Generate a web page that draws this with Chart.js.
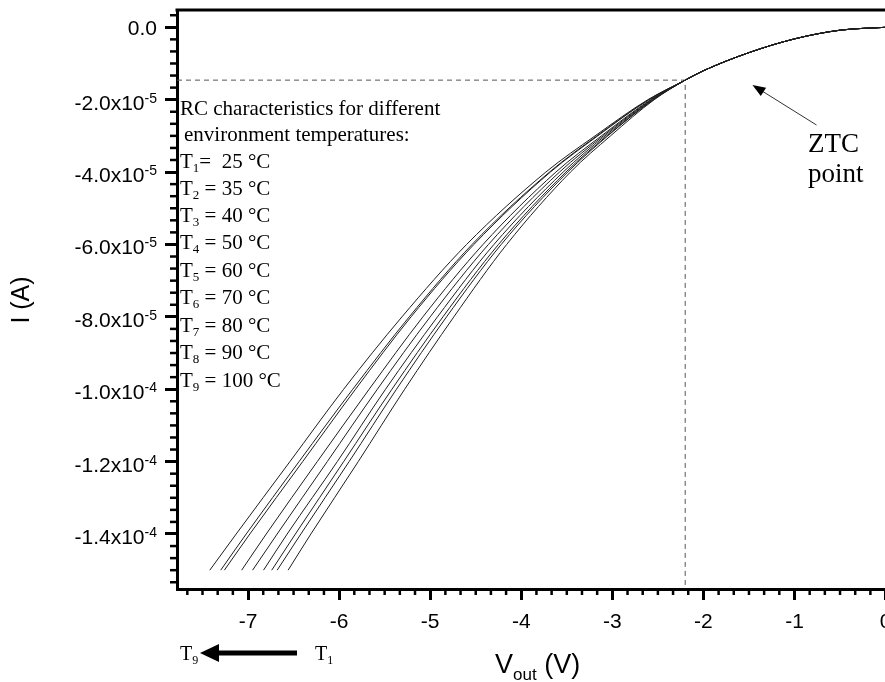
<!DOCTYPE html>
<html>
<head>
<meta charset="utf-8">
<script src="https://cdn.jsdelivr.net/npm/chart.js@4.4.0/dist/chart.umd.min.js"></script>
<style>
    html, body { margin: 0; padding: 0; background: #fff; overflow: hidden; }
    #wrap { width: 885px; height: 682px; overflow: hidden; }
    canvas { display: block; }
</style>
</head>
<body>
<div id="wrap"><canvas id="chart" width="960" height="682"></canvas></div>
<script>
// 温度ごとのRC特性 (I vs Vout)
const temps = [25, 35, 40, 50, 60, 70, 80, 90, 100];

// ZTC点より上は全曲線ほぼ共通
const upperV = [0, -0.5, -1.0, -1.5, -2.0, -2.2];
const upperI = [0, -0.8e-6, -3.2e-6, -7.0e-6, -1.2e-5, -1.46e-5];

// ZTC点より下: 電流レベルごとの電圧
const lowerI = [-2e-5, -3e-5, -4e-5, -6e-5, -8e-5, -1.0e-4, -1.2e-4, -1.4e-4, -1.5e-4];
const vT1 = [-2.54, -3.02, -3.46, -4.16, -4.74, -5.28, -5.79, -6.31, -6.56];
const vT2 = [-2.55, -3.05, -3.49, -4.22, -4.82, -5.37, -5.89, -6.42, -6.68];
const vT3 = [-2.55, -3.06, -3.51, -4.25, -4.86, -5.42, -5.95, -6.48, -6.74];
const vT4 = [-2.56, -3.08, -3.54, -4.30, -4.92, -5.49, -6.02, -6.57, -6.83];
const vT5 = [-2.57, -3.10, -3.58, -4.36, -5.00, -5.58, -6.13, -6.68, -6.95];
const vT6 = [-2.58, -3.12, -3.62, -4.42, -5.08, -5.67, -6.24, -6.80, -7.07];
const vT7 = [-2.60, -3.16, -3.68, -4.52, -5.21, -5.82, -6.40, -6.98, -7.26];
const vT8 = [-2.60, -3.17, -3.69, -4.54, -5.23, -5.85, -6.44, -7.02, -7.30];
const vT9 = [-2.61, -3.19, -3.73, -4.60, -5.31, -5.95, -6.54, -7.13, -7.42];

// ZTC点と注釈矢印
const ztcV = -2.2;
const ztcI = -1.46e-5;
const arrowTail = [-0.758, -2.70e-5];
const arrowHead = [-1.462, -1.594e-5];

// 軸
const xMin = -7.78, xMax = 0.4;
const yMin = -1.552e-4, yMax = 4.78e-6;
const xTickValues = [-7, -6, -5, -4, -3, -2, -1, 0];
const xTickLabels = ['-7', '-6', '-5', '-4', '-3', '-2', '-1', '0'];
const yTickValues = [0, -2e-5, -4e-5, -6e-5, -8e-5, -1e-4, -1.2e-4, -1.4e-4];
const yTickMantissa = ['0.0', '-2.0', '-4.0', '-6.0', '-8.0', '-1.0', '-1.2', '-1.4'];
const yTickExponent = ['', '-5', '-5', '-5', '-5', '-4', '-4', '-4'];
const minorCount = 6;

const SANS = '"Liberation Sans", Arial, sans-serif';
const SERIF = '"Liberation Serif", "Times New Roman", serif';

/**
 * 添字付きテキストを描画
 */
function drawRich(ctx, x, y, parts) {
    let cx = x;
    parts.forEach(([text, size, dy, family]) => {
        ctx.font = `${size}px ${family || SERIF}`;
        ctx.fillText(text, cx, y + dy);
        cx += ctx.measureText(text).width;
    });
}

const curves = [vT1, vT2, vT3, vT4, vT5, vT6, vT7, vT8, vT9];
const datasets = curves.map((lv, k) => ({
    label: `T${k + 1} = ${temps[k]} °C`,
    data: upperV.map((v, i) => ({ x: v, y: upperI[i] }))
        .concat(lv.map((v, i) => ({ x: v, y: lowerI[i] }))),
    borderColor: '#1e1e1e',
    borderWidth: 1,
    pointRadius: 0,
    fill: false,
    cubicInterpolationMode: 'monotone'
}));

datasets.push({
    label: 'ZTC guide',
    data: [{ x: xMin, y: ztcI }, { x: ztcV, y: ztcI }, { x: ztcV, y: yMin }],
    borderColor: '#555',
    borderWidth: 1,
    borderDash: [5, 4],
    pointRadius: 0,
    tension: 0
});

const decorations = {
    id: 'decorations',
    afterDraw(chart) {
        const ctx = chart.ctx;
        const area = chart.chartArea;
        const xs = chart.scales.x;
        const ys = chart.scales.y;
        ctx.save();
        ctx.fillStyle = '#000';
        ctx.strokeStyle = '#000';

        // 枠 (上・右)
        ctx.lineWidth = 3;
        ctx.beginPath();
        ctx.moveTo(area.left - 1.5, area.top);
        ctx.lineTo(area.right, area.top);
        ctx.lineTo(area.right, area.bottom);
        ctx.stroke();

        // 補助目盛
        ctx.lineWidth = 2.5;
        for (let k = Math.ceil(xMin * minorCount); k <= Math.floor(xMax * minorCount); k++) {
            if (k % minorCount === 0) continue;
            const px = xs.getPixelForValue(k / minorCount);
            ctx.beginPath();
            ctx.moveTo(px, area.bottom);
            ctx.lineTo(px, area.bottom + 6);
            ctx.stroke();
        }
        const yStep = 2e-5 / minorCount;
        for (let k = Math.ceil(yMin / yStep); k <= Math.floor(yMax / yStep); k++) {
            if (k % minorCount === 0) continue;
            const py = ys.getPixelForValue(k * yStep);
            ctx.beginPath();
            ctx.moveTo(area.left, py);
            ctx.lineTo(area.left - 7, py);
            ctx.stroke();
        }

        // X軸目盛ラベル
        ctx.textAlign = 'center';
        ctx.textBaseline = 'alphabetic';
        ctx.font = `21px ${SANS}`;
        xTickValues.forEach((v, i) => {
            ctx.fillText(xTickLabels[i], xs.getPixelForValue(v), area.bottom + 39);
        });

        // Y軸目盛ラベル (指数表記)
        ctx.textAlign = 'right';
        const labelRight = area.left - 20;
        yTickValues.forEach((v, i) => {
            const py = ys.getPixelForValue(v);
            if (!yTickExponent[i]) {
                ctx.font = `21px ${SANS}`;
                ctx.fillText(yTickMantissa[i], labelRight, py + 8);
                return;
            }
            ctx.font = `14px ${SANS}`;
            const ew = ctx.measureText(yTickExponent[i]).width;
            ctx.fillText(yTickExponent[i], labelRight, py + 3);
            ctx.font = `21px ${SANS}`;
            ctx.fillText(yTickMantissa[i] + 'x10', labelRight - ew, py + 10);
        });

        // 軸タイトル
        ctx.save();
        ctx.translate(29, 300);
        ctx.rotate(-Math.PI / 2);
        ctx.textAlign = 'center';
        ctx.font = `25px ${SANS}`;
        ctx.fillText('I (A)', 0, 0);
        ctx.restore();

        ctx.textAlign = 'left';
        drawRich(ctx, 495, 673, [['V', 27, 0, SANS], ['out', 17, 7, SANS], [' (V)', 27, 0, SANS]]);

        // 凡例テキスト
        ctx.font = `21px ${SERIF}`;
        ctx.fillText('RC characteristics for different', 180, 115);
        ctx.fillText('environment temperatures:', 184, 141);
        const rowY = [168, 195, 222, 249, 277, 304, 332, 359, 387];
        temps.forEach((t, k) => {
            const rest = k === 0 ? `=  ${t} °C` : ` = ${t} °C`;
            drawRich(ctx, 180, rowY[k], [['T', 21, 0], [String(k + 1), 13, 4], [rest, 21, 0]]);
        });

        // ZTC注釈
        ctx.font = `27px ${SERIF}`;
        ctx.fillText('ZTC', 808, 152);
        ctx.fillText('point', 808, 182);

        const tx = xs.getPixelForValue(arrowTail[0]);
        const ty = ys.getPixelForValue(arrowTail[1]);
        const hx = xs.getPixelForValue(arrowHead[0]);
        const hy = ys.getPixelForValue(arrowHead[1]);
        const ang = Math.atan2(hy - ty, hx - tx);
        ctx.lineWidth = 1;
        ctx.strokeStyle = '#333';
        ctx.beginPath();
        ctx.moveTo(tx, ty);
        ctx.lineTo(hx - 8 * Math.cos(ang), hy - 8 * Math.sin(ang));
        ctx.stroke();
        ctx.beginPath();
        ctx.moveTo(hx, hy);
        ctx.lineTo(hx - 13 * Math.cos(ang) + 5 * Math.sin(ang), hy - 13 * Math.sin(ang) - 5 * Math.cos(ang));
        ctx.lineTo(hx - 13 * Math.cos(ang) - 5 * Math.sin(ang), hy - 13 * Math.sin(ang) + 5 * Math.cos(ang));
        ctx.closePath();
        ctx.fill();

        // T9 <- T1 矢印
        drawRich(ctx, 180, 660, [['T', 20, 0], ['9', 12, 4]]);
        drawRich(ctx, 315, 660, [['T', 20, 0], ['1', 12, 4]]);
        ctx.lineWidth = 5;
        ctx.strokeStyle = '#000';
        ctx.beginPath();
        ctx.moveTo(297, 653);
        ctx.lineTo(214, 653);
        ctx.stroke();
        ctx.beginPath();
        ctx.moveTo(200, 653);
        ctx.lineTo(219, 644);
        ctx.lineTo(219, 662);
        ctx.closePath();
        ctx.fill();

        ctx.restore();
    }
};

new Chart(document.getElementById('chart'), {
    type: 'line',
    data: { datasets: datasets },
    options: {
        responsive: false,
        animation: false,
        devicePixelRatio: 1,
        layout: { padding: { left: 0, top: 10, right: 38, bottom: 0 } },
        plugins: {
            legend: { display: false },
            tooltip: { enabled: false }
        },
        scales: {
            x: {
                type: 'linear',
                min: xMin,
                max: xMax,
                afterFit: s => { s.height = 93; },
                afterBuildTicks: s => { s.ticks = xTickValues.map(v => ({ value: v })); },
                ticks: { display: false },
                grid: { drawOnChartArea: false, drawTicks: true, tickLength: 11, tickWidth: 3, tickColor: '#000' },
                border: { display: true, color: '#000', width: 3 }
            },
            y: {
                type: 'linear',
                min: yMin,
                max: yMax,
                afterFit: s => { s.width = 177; },
                afterBuildTicks: s => { s.ticks = yTickValues.map(v => ({ value: v })); },
                ticks: { display: false },
                grid: { drawOnChartArea: false, drawTicks: true, tickLength: 12, tickWidth: 3, tickColor: '#000' },
                border: { display: true, color: '#000', width: 3 }
            }
        }
    },
    plugins: [decorations]
});
</script>
</body>
</html>
